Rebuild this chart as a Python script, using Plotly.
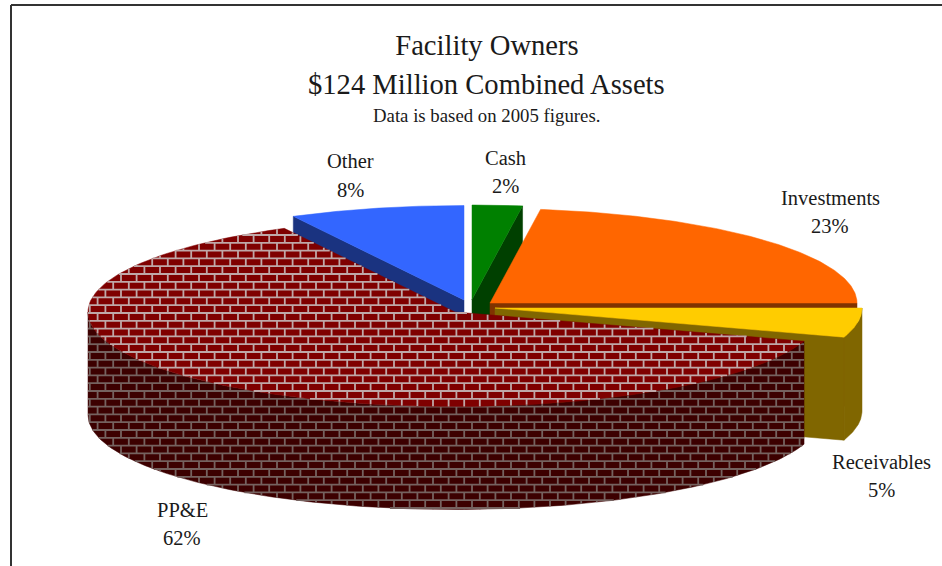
import numpy as np
import plotly.graph_objects as go

# ---- data ----
categories = ["Cash", "Investments", "Receivables", "PP&E", "Other"]
shares = [2.2, 22.8, 5.0, 62.3, 7.7]
title_lines = ["Facility Owners", "$124 Million Combined Assets"]
subtitle = "Data is based on 2005 figures."

# ---- drawing style / geometry of the 3-D pie (pixel space of the hidden axes) ----
W, H = 942, 566
RX, RY, DEPTH = 367.0, 94.5, 103.0
slice_centres = {"Cash": (472, 299.5), "Investments": (490, 303), "Receivables": (495, 308),
                 "PP&E": (455, 312), "Other": (464, 300)}
top_colours = {"Cash": "#008000", "Investments": "#ff6600", "Receivables": "#ffcc00",
               "PP&E": "#7f0000", "Other": "#3366ff"}
side_colours = {"Cash": "#004000", "Investments": "#803300", "Receivables": "#806600",
                "PP&E": "#3c0000", "Other": "#1a3380"}
label_pos = {"Cash": (505, 158, 186), "Investments": (830, 198, 226), "Receivables": (881, 462, 490),
             "PP&E": (182, 510, 538), "Other": (350, 161, 190)}
FONT = "Liberation Serif"
TEXT = "#1a1a1a"
BRICK_H, BRICK_W = 7.8, 15.6
BRICK_Y0, BRICK_X0 = 1.0, 4.0

# angular extent of each slice, clockwise from 12 o'clock
edges = np.concatenate([[0.0], np.cumsum(shares)]) * 3.6
span = {c: (edges[i], edges[i + 1]) for i, c in enumerate(categories)}


def rim(cat, deg):
    cx, cy = slice_centres[cat]
    t = np.radians(deg)
    return cx + RX * np.sin(t), cy - RY * np.cos(t)


def top_poly(cat):
    a, b = span[cat]
    xs, ys = rim(cat, np.linspace(a, b, 160))
    cx, cy = slice_centres[cat]
    return np.r_[cx, xs, cx], np.r_[cy, ys, cy]


def inner_wall(cat, deg):
    cx, cy = slice_centres[cat]
    rx, ry = rim(cat, deg)
    return np.array([cx, rx, rx, cx, cx]), np.array([cy, ry, ry + DEPTH, cy + DEPTH, cy])


def outer_wall(cat, a, b):
    xs, ys = rim(cat, np.linspace(a, b, 160))
    return np.r_[xs, xs[::-1], xs[0]], np.r_[ys, ys[::-1] + DEPTH, ys[0]]


def crossings(px, py, level, along_x):
    """Positions at which a polygon's outline crosses a horizontal or vertical line."""
    a, b = (py, px) if along_x else (px, py)
    a0, a1, b0, b1 = a[:-1], a[1:], b[:-1], b[1:]
    hit = (a0 <= level) != (a1 <= level)
    return np.sort(b0[hit] + (level - a0[hit]) * (b1[hit] - b0[hit]) / (a1[hit] - a0[hit]))


def brick_lines(px, py):
    """Mortar lines of a brick hatch clipped to the polygon (px, py)."""
    X, Y = [], []
    row0 = int(np.floor((py.min() - BRICK_Y0) / BRICK_H))
    row1 = int(np.ceil((py.max() - BRICK_Y0) / BRICK_H))
    for row in range(row0, row1 + 1):
        y = BRICK_Y0 + row * BRICK_H
        c = crossings(px, py, y + 1e-6, True)
        for l, r in zip(c[::2], c[1::2]):
            X += [l, r, None]
            Y += [y, y, None]
        shift = BRICK_X0 + (row % 2) * BRICK_W / 2
        k0 = int(np.floor((px.min() - shift) / BRICK_W))
        k1 = int(np.ceil((px.max() - shift) / BRICK_W))
        for k in range(k0, k1 + 1):
            x = shift + k * BRICK_W
            c = crossings(px, py, x + 1e-6, False)
            for t, b in zip(c[::2], c[1::2]):
                lo, hi = max(t, y), min(b, y + BRICK_H)
                if hi > lo:
                    X += [x, x, None]
                    Y += [lo, hi, None]
    return X, Y


fig = go.Figure()


def fill(poly, colour, name):
    fig.add_trace(go.Scatter(x=poly[0], y=poly[1], mode="lines", fill="toself", fillcolor=colour,
                             line=dict(width=0.5, color=colour), name=name, hoverinfo="skip"))


def bricks(poly, colour, name):
    X, Y = brick_lines(*poly)
    fig.add_trace(go.Scatter(x=X, y=Y, mode="lines", line=dict(width=1.8, color=colour),
                             name=name, hoverinfo="skip", connectgaps=False))


# back to front
o0, o1 = span["Other"]
fill(inner_wall("Other", o0), side_colours["Other"], "Other")
fill(top_poly("Other"), top_colours["Other"], "Other")

c0, c1 = span["Cash"]
fill(inner_wall("Cash", c1), side_colours["Cash"], "Cash")
fill(top_poly("Cash"), top_colours["Cash"], "Cash")

i0, i1 = span["Investments"]
fill(inner_wall("Investments", i1), side_colours["Investments"], "Investments")
fill(top_poly("Investments"), top_colours["Investments"], "Investments")

r0, r1 = span["Receivables"]
fill(inner_wall("Receivables", r1), side_colours["Receivables"], "Receivables")
fill(outer_wall("Receivables", r0, r1), side_colours["Receivables"], "Receivables")
fill(top_poly("Receivables"), top_colours["Receivables"], "Receivables")

p0, p1 = span["PP&E"]
side = outer_wall("PP&E", p0, 270.0)
fill(side, side_colours["PP&E"], "PP&E")
bricks(side, "#75625f", "PP&E")
top = top_poly("PP&E")
fill(top, top_colours["PP&E"], "PP&E")
bricks(top, "#bfa8a8", "PP&E")

anns = []
for cat, share in zip(categories, shares):
    x, y1, y2 = label_pos[cat]
    anns.append(dict(x=x, y=y1, text=cat, showarrow=False, xref="x", yref="y",
                     font=dict(family=FONT, size=20.5, color=TEXT)))
    anns.append(dict(x=x, y=y2, text=f"{round(share)}%", showarrow=False, xref="x", yref="y",
                     font=dict(family=FONT, size=20.5, color=TEXT)))
anns.append(dict(x=486, y=84, text=title_lines[1], showarrow=False, xref="x", yref="y",
                 font=dict(family=FONT, size=28.6, color=TEXT)))
anns.append(dict(x=486, y=115, text=subtitle, showarrow=False, xref="x", yref="y",
                 font=dict(family=FONT, size=18.8, color=TEXT)))

fig.update_layout(
    width=W, height=H, margin=dict(l=0, r=0, t=0, b=0), showlegend=False,
    paper_bgcolor="white", plot_bgcolor="white",
    title=dict(text=title_lines[0], x=487 / W, xanchor="center", y=1 - 45 / H, yanchor="middle",
               font=dict(family=FONT, size=28.6, color=TEXT)),
    xaxis=dict(range=[0, W], visible=False, fixedrange=True),
    yaxis=dict(range=[H, 0], visible=False, fixedrange=True),
    annotations=anns,
    shapes=[
        dict(type="line", xref="x", yref="y", x0=11, y0=5, x1=W, y1=5, line=dict(color="#333333", width=2)),
        dict(type="line", xref="x", yref="y", x0=11, y0=5, x1=11, y1=H, line=dict(color="#333333", width=2)),
    ],
)

fig.write_html("out.html", config=dict(displayModeBar=False),
               post_script="document.body.style.margin='0';document.body.style.overflow='hidden';window.dispatchEvent(new Event('resize'));")
